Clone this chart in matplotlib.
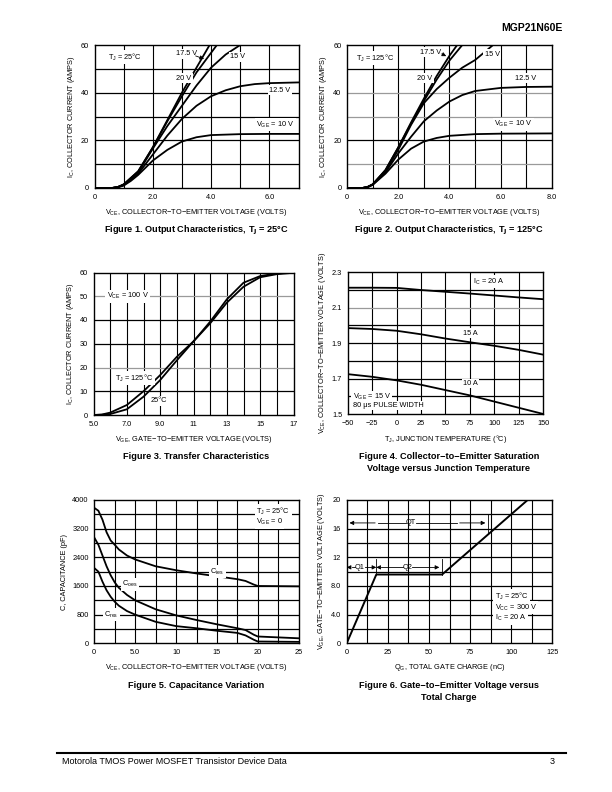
import matplotlib
matplotlib.use("Agg")
import matplotlib.pyplot as plt

plt.rcParams['font.family'] = ['Liberation Sans', 'DejaVu Sans']
plt.rcParams['mathtext.fontset'] = 'custom'
plt.rcParams['mathtext.rm'] = 'Liberation Sans'
plt.rcParams['mathtext.it'] = 'Liberation Sans'
plt.rcParams['mathtext.default'] = 'rm'

# ---- Figure 1: output characteristics, TJ = 25C
f1_v10_x = [0, 0.6, 0.8, 1.0, 1.25, 1.5, 2.0, 2.5, 3.0, 3.5, 4.0, 5.0, 6.0, 7.0]
f1_v10_y = [0, 0, 0.3, 1.0, 3.0, 5.5, 11.5, 16.0, 19.5, 21.3, 22.2, 22.6, 22.7, 22.7]
f1_v125_x = [0, 0.6, 0.8, 1.0, 1.5, 2.0, 2.5, 3.0, 3.5, 4.0, 4.5, 5.0, 5.5, 6.0, 7.0]
f1_v125_y = [0, 0, 0.4, 1.2, 6.0, 14.0, 22.0, 29.0, 34.5, 38.5, 41.0, 42.7, 43.6, 44.0, 44.3]
f1_v15_x = [0, 0.6, 0.8, 1.0, 1.5, 2.0, 2.5, 3.0, 3.5, 4.0, 4.5, 5.0]
f1_v15_y = [0, 0, 0.4, 1.3, 6.5, 16.5, 26.0, 34.5, 43.0, 50.5, 56.0, 60.0]
f1_v175_x = [0, 0.6, 0.8, 1.0, 1.5, 2.0, 2.5, 3.0, 3.5, 4.2]
f1_v175_y = [0, 0, 0.4, 1.5, 7.0, 17.0, 28.0, 38.5, 48.5, 60.0]
f1_v20_x = [0, 0.6, 0.8, 1.0, 1.5, 2.0, 2.5, 3.0, 3.5, 3.95]
f1_v20_y = [0, 0, 0.4, 1.5, 7.0, 17.0, 28.5, 40.0, 50.5, 60.0]

# ---- Figure 2: output characteristics, TJ = 125C
f2_v10_x = [0, 0.6, 0.8, 1.0, 1.5, 2.0, 2.5, 3.0, 3.5, 4.0, 5.0, 6.0, 8.0]
f2_v10_y = [0, 0, 0.4, 1.3, 6.0, 11.9, 16.5, 19.5, 21.0, 21.9, 22.6, 22.8, 22.9]
f2_v125_x = [0, 0.6, 0.8, 1.0, 1.5, 2.0, 2.5, 3.0, 3.5, 4.0, 4.5, 5.0, 6.0, 7.0, 8.0]
f2_v125_y = [0, 0, 0.4, 1.4, 6.5, 14.5, 21.5, 28.0, 32.5, 36.3, 39.0, 40.7, 42.0, 42.4, 42.5]
f2_v15_x = [0, 0.6, 0.8, 1.0, 1.5, 2.0, 2.5, 3.0, 3.5, 4.0, 4.5, 5.0, 5.7]
f2_v15_y = [0, 0, 0.4, 1.5, 7.0, 16.0, 26.5, 35.6, 41.5, 46.3, 50.5, 53.7, 60.0]
f2_v175_x = [0, 0.6, 0.8, 1.0, 1.5, 2.0, 2.5, 3.0, 3.5, 4.0, 4.5]
f2_v175_y = [0, 0, 0.4, 1.5, 7.5, 17.0, 27.0, 36.5, 45.5, 53.5, 60.0]
f2_v20_x = [0, 0.6, 0.8, 1.0, 1.5, 2.0, 2.5, 3.0, 3.5, 4.0, 4.3]
f2_v20_y = [0, 0, 0.4, 1.5, 7.5, 17.0, 27.5, 37.5, 47.0, 55.5, 60.0]

# ---- Figure 3: transfer characteristics
f3_vge = [5.0, 5.5, 6.0, 7.0, 8.0, 9.0, 10.0, 11.0, 12.0, 13.0, 14.0, 15.0, 16.0, 16.7]
f3_ic_125 = [0, 0.2, 1.0, 4.2, 10.0, 16.8, 24.5, 31.0, 38.6, 47.3, 54.0, 58.0, 59.3, 59.7]
f3_ic_25 = [0, 0.1, 0.4, 2.4, 7.7, 14.7, 23.0, 31.0, 39.3, 48.7, 55.7, 58.5, 59.6, 59.9]

# ---- Figure 4: VCE(sat) vs junction temperature
f4_tj = [-50, -25, 0, 25, 50, 75, 100, 125, 150]
f4_20a = [2.213, 2.213, 2.212, 2.200, 2.190, 2.180, 2.169, 2.158, 2.148]
f4_15a = [1.985, 1.980, 1.970, 1.950, 1.926, 1.905, 1.885, 1.862, 1.835]
f4_10a = [1.725, 1.710, 1.690, 1.665, 1.635, 1.605, 1.570, 1.535, 1.500]

# ---- Figure 5: capacitance variation
f5_vce = [0, 0.5, 1.0, 1.5, 2.0, 2.5, 3.0, 4.0, 5.0, 7.5, 10.0, 12.5, 15.0, 17.5, 18.5, 19.5, 20.0, 25.0]
f5_cies = [3780, 3700, 3450, 3100, 2870, 2750, 2620, 2450, 2340, 2150, 2040, 1950, 1870, 1790, 1740, 1640, 1600, 1590]
f5_coes = [2950, 2750, 2450, 2150, 1900, 1700, 1550, 1350, 1200, 950, 780, 650, 530, 420, 370, 240, 190, 140]
f5_cres = [2100, 2000, 1720, 1480, 1300, 1160, 1050, 900, 800, 600, 480, 420, 350, 290, 220, 100, 50, 40]

# ---- Figure 6: gate charge
f6_qg = [0, 18, 58, 85, 110]
f6_vge = [0, 9.6, 9.6, 15.0, 20.0]

fig = plt.figure(figsize=(6.12, 7.92), dpi=100)
TS = 5.3


def setup(ax, xlim, ylim, xgrid, ygrid, xticks, xtl, yticks, ytl, gray=()):
    ax.set_xlim(xlim)
    ax.set_ylim(ylim)
    for g in xgrid:
        ax.axvline(g, color='black', lw=0.8, zorder=1)
    for g in ygrid:
        c = '#9a9a9a' if g in gray else 'black'
        ax.axhline(g, color=c, lw=0.9, zorder=1)
    ax.set_xticks(xticks)
    ax.set_xticklabels(xtl)
    ax.set_yticks(yticks)
    ax.set_yticklabels(ytl)
    ax.tick_params(length=0, labelsize=TS, pad=4)
    for s in ax.spines.values():
        s.set_linewidth(1.0)
        s.set_zorder(3)


def txt(ax, x, y, s, ha='left', box=True):
    kw = dict(fontsize=TS, ha=ha, va='center', zorder=4)
    if box:
        kw['bbox'] = dict(facecolor='white', edgecolor='none', pad=1.0)
    ax.text(x, y, s, **kw)


W, H = 612.0, 792.0


def axes_px(l, t, r, b):
    return fig.add_axes([l / W, (H - b) / H, (r - l) / W, (b - t) / H])


XLP = 4.5
arr = dict(arrowstyle='-|>', color='black', lw=0.6, mutation_scale=6)

# Figure 1
ax1 = axes_px(94.5, 45, 298.5, 188)
setup(ax1, (0, 7), (0, 60), range(1, 7), range(10, 60, 10),
      [0, 2, 4, 6], ['0', '2.0', '4.0', '6.0'], [0, 20, 40, 60], ['0', '20', '40', '60'])
for xs, ys in [(f1_v10_x, f1_v10_y), (f1_v125_x, f1_v125_y), (f1_v15_x, f1_v15_y),
               (f1_v175_x, f1_v175_y), (f1_v20_x, f1_v20_y)]:
    ax1.plot(xs, ys, color='black', lw=1.3, zorder=2, clip_on=True)
txt(ax1, 0.45, 54.8, r'T$_J$ = 25°C')
txt(ax1, 2.78, 56.3, '17.5 V')
ax1.annotate('', xy=(3.85, 53.8), xytext=(3.38, 55.8), arrowprops=arr, zorder=4)
txt(ax1, 4.66, 55.0, '15 V')
txt(ax1, 2.8, 46.0, '20 V')
txt(ax1, 6.0, 41.0, '12.5 V')
txt(ax1, 5.55, 26.5, r'V$_{GE}$ = 10 V')
ax1.set_xlabel(r'V$_{CE}$, COLLECTOR−TO−EMITTER VOLTAGE (VOLTS)', fontsize=TS, labelpad=XLP)
ax1.set_ylabel(r'I$_C$, COLLECTOR CURRENT (AMPS)', fontsize=TS, labelpad=3)

# Figure 2
ax2 = axes_px(347, 45, 552, 188)
setup(ax2, (0, 8), (0, 60), range(1, 8), range(10, 60, 10),
      [0, 2, 4, 6, 8], ['0', '2.0', '4.0', '6.0', '8.0'], [0, 20, 40, 60], ['0', '20', '40', '60'],
      gray=(10, 30, 40))
for xs, ys in [(f2_v10_x, f2_v10_y), (f2_v125_x, f2_v125_y), (f2_v15_x, f2_v15_y),
               (f2_v175_x, f2_v175_y), (f2_v20_x, f2_v20_y)]:
    ax2.plot(xs, ys, color='black', lw=1.3, zorder=2)
txt(ax2, 0.35, 54.4, r'T$_J$ = 125°C')
txt(ax2, 2.85, 57.0, '17.5 V')
ax2.annotate('', xy=(3.97, 54.8), xytext=(3.6, 56.8), arrowprops=arr, zorder=4)
txt(ax2, 5.38, 56.2, '15 V')
txt(ax2, 2.75, 46.0, '20 V')
txt(ax2, 6.55, 46.0, '12.5 V')
txt(ax2, 5.75, 26.8, r'V$_{GE}$ = 10 V')
ax2.set_xlabel(r'V$_{CE}$, COLLECTOR−TO−EMITTER VOLTAGE (VOLTS)', fontsize=TS, labelpad=XLP)
ax2.set_ylabel(r'I$_C$, COLLECTOR CURRENT (AMPS)', fontsize=TS, labelpad=3)

# Figure 3
ax3 = axes_px(93.5, 272.5, 293.5, 415)
setup(ax3, (5, 17), (0, 60), range(6, 17), range(10, 60, 10),
      [5, 7, 9, 11, 13, 15, 17], ['5.0', '7.0', '9.0', '11', '13', '15', '17'],
      range(0, 61, 10), [str(v) for v in range(0, 61, 10)], gray=(20, 50))
ax3.plot(f3_vge, f3_ic_125, color='black', lw=1.3, zorder=2)
ax3.plot(f3_vge, f3_ic_25, color='black', lw=1.3, zorder=2)
txt(ax3, 5.8, 50.0, r'V$_{CE}$ = 100 V')
txt(ax3, 6.3, 15.5, r'T$_J$ = 125°C')
txt(ax3, 8.45, 5.9, '25°C')
ax3.set_xlabel(r'V$_{GE}$, GATE−TO−EMITTER VOLTAGE (VOLTS)', fontsize=TS, labelpad=XLP)
ax3.set_ylabel(r'I$_C$, COLLECTOR CURRENT (AMPS)', fontsize=TS, labelpad=3)

# Figure 4
ax4 = axes_px(347.7, 272.3, 543.3, 414)
setup(ax4, (-50, 150), (1.5, 2.3), range(-25, 150, 25), [1.6, 1.7, 1.8, 1.9, 2.0, 2.1, 2.2],
      range(-50, 151, 25), ['−50', '−25', '0', '25', '50', '75', '100', '125', '150'],
      [1.5, 1.7, 1.9, 2.1, 2.3], ['1.5', '1.7', '1.9', '2.1', '2.3'], gray=(2.1,))
ax4.plot(f4_tj, f4_20a, color='black', lw=1.3, zorder=2)
ax4.plot(f4_tj, f4_15a, color='black', lw=1.3, zorder=2)
ax4.plot(f4_tj, f4_10a, color='black', lw=1.3, zorder=2)
txt(ax4, 78, 2.248, r'I$_C$ = 20 A')
txt(ax4, 68, 1.957, '15 A')
txt(ax4, 68, 1.672, '10 A')
txt(ax4, -45, 1.595, r'V$_{GE}$ = 15 V')
txt(ax4, -45, 1.548, '80 μs PULSE WIDTH')
ax4.set_xlabel(r'T$_J$, JUNCTION TEMPERATURE (°C)', fontsize=TS, labelpad=XLP)
ax4.set_ylabel(r'V$_{CE}$, COLLECTOR−TO−EMITTER VOLTAGE (VOLTS)', fontsize=TS, labelpad=3)

# Figure 5
ax5 = axes_px(94.3, 500, 298.7, 643.3)
setup(ax5, (0, 25), (0, 4000), [2.5 * i for i in range(1, 10)], range(400, 4000, 400),
      [0, 5, 10, 15, 20, 25], ['0', '5.0', '10', '15', '20', '25'],
      range(0, 4001, 800), [str(v) for v in range(0, 4001, 800)])
ax5.plot(f5_vce, f5_cies, color='black', lw=1.3, zorder=2)
ax5.plot(f5_vce, f5_coes, color='black', lw=1.3, zorder=2)
ax5.plot(f5_vce, f5_cres, color='black', lw=1.3, zorder=2)
txt(ax5, 19.8, 3680, r'T$_J$ = 25°C')
txt(ax5, 19.8, 3380, r'V$_{GE}$ = 0')
txt(ax5, 14.2, 2000, r'C$_{ies}$')
txt(ax5, 3.4, 1650, r'C$_{oes}$')
txt(ax5, 1.2, 800, r'C$_{res}$')
ax5.set_xlabel(r'V$_{CE}$, COLLECTOR−TO−EMITTER VOLTAGE (VOLTS)', fontsize=TS, labelpad=XLP)
ax5.set_ylabel('C, CAPACITANCE (pF)', fontsize=TS, labelpad=3)

# Figure 6
ax6 = axes_px(346.7, 500, 552.3, 643.3)
setup(ax6, (0, 125), (0, 20), [12.5 * i for i in range(1, 10)], range(2, 20, 2),
      [0, 25, 50, 75, 100, 125], ['0', '25', '50', '75', '100', '125'],
      range(0, 21, 4), ['0', '4.0', '8.0', '12', '16', '20'])
ax6.plot(f6_qg, f6_vge, color='black', lw=1.4, zorder=2)
for x0, x1, y in [(19, 0, 16.8), (67, 86, 16.8), (3, 0, 10.6), (15, 18, 10.6), (21, 18, 10.6),
                  (53, 58, 10.6)]:
    ax6.annotate('', xy=(x1, y), xytext=(x0, y), arrowprops=arr, zorder=4)
ax6.plot([86, 86], [15.2, 18.0], color='black', lw=0.6, zorder=4)
ax6.plot([18, 18], [9.6, 11.7], color='black', lw=0.6, zorder=4)
ax6.plot([58, 58], [9.6, 11.7], color='black', lw=0.6, zorder=4)
ax6.plot([19, 36], [16.8, 16.8], color='black', lw=0.6, zorder=4)
ax6.plot([42, 67], [16.8, 16.8], color='black', lw=0.6, zorder=4)
ax6.plot([3, 5], [10.6, 10.6], color='black', lw=0.6, zorder=4)
ax6.plot([11, 15], [10.6, 10.6], color='black', lw=0.6, zorder=4)
ax6.plot([21, 34], [10.6, 10.6], color='black', lw=0.6, zorder=4)
ax6.plot([40, 53], [10.6, 10.6], color='black', lw=0.6, zorder=4)
ax6.text(39, 16.8, 'QT', fontsize=TS, ha='center', va='center', zorder=4)
ax6.text(8, 10.6, 'Q1', fontsize=TS, ha='center', va='center', zorder=4)
ax6.text(37, 10.6, 'Q2', fontsize=TS, ha='center', va='center', zorder=4)
txt(ax6, 90, 6.6, r'T$_J$ = 25°C')
txt(ax6, 90, 5.0, r'V$_{CC}$ = 300 V')
txt(ax6, 90, 3.5, r'I$_C$ = 20 A')
ax6.set_xlabel(r'Q$_G$, TOTAL GATE CHARGE (nC)', fontsize=TS, labelpad=XLP)
ax6.set_ylabel(r'V$_{GE}$, GATE−TO−EMITTER VOLTAGE (VOLTS)', fontsize=TS, labelpad=3)

# captions
cap = dict(fontsize=6.6, fontweight='bold', ha='center', va='center')
fig.text(196 / W, 1 - 230 / H, r'Figure 1. Output Characteristics, T$_\mathbf{J}$ = 25°C', **cap)
fig.text(449 / W, 1 - 230 / H, r'Figure 2. Output Characteristics, T$_\mathbf{J}$ = 125°C', **cap)
fig.text(196 / W, 1 - 456 / H, 'Figure 3. Transfer Characteristics', **cap)
fig.text(449 / W, 1 - 456 / H, 'Figure 4. Collector−to−Emitter Saturation', **cap)
fig.text(449 / W, 1 - 469 / H, 'Voltage versus Junction Temperature', **cap)
fig.text(196 / W, 1 - 685 / H, 'Figure 5. Capacitance Variation', **cap)
fig.text(449 / W, 1 - 685 / H, 'Figure 6. Gate−to−Emitter Voltage versus', **cap)
fig.text(449 / W, 1 - 698 / H, 'Total Charge', **cap)

# header / footer
fig.text(563 / W, 1 - 28 / H, 'MGP21N60E', fontsize=7.5, fontweight='heavy', ha='right', va='center')
fig.add_artist(plt.Line2D([57 / W, 566 / W], [1 - 753 / H, 1 - 753 / H], color='black', lw=1.5))
fig.text(62 / W, 1 - 762 / H, 'Motorola TMOS Power MOSFET Transistor Device Data', fontsize=6.5,
         ha='left', va='center')
fig.text(555 / W, 1 - 762 / H, '3', fontsize=6.5, ha='right', va='center')

fig.savefig('out.png', dpi=100)
